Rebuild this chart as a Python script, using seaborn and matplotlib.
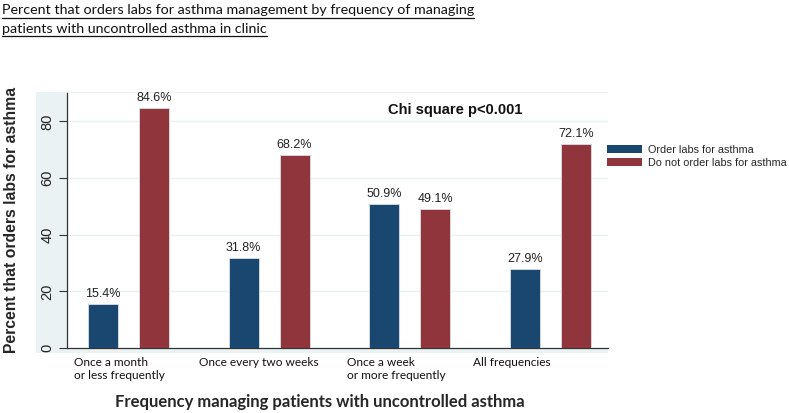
import matplotlib
matplotlib.use("Agg")
import matplotlib.pyplot as plt
import seaborn as sns
import pandas as pd
from matplotlib.patches import Patch
from matplotlib.lines import Line2D

categories = ["Once a month\nor less frequently", "Once every two weeks",
              "Once a week\nor more frequently", "All frequencies"]
series_names = ["Order labs for asthma", "Do not order labs for asthma"]
order_labs = [15.4, 31.8, 50.9, 27.9]
no_order_labs = [84.6, 68.2, 49.1, 72.1]
y_ticks = [0, 20, 40, 60, 80]
title_lines = ["Percent that orders labs for asthma management by frequency of managing",
               "patients with uncontrolled asthma in clinic"]
x_title = "Frequency managing patients with uncontrolled asthma"
y_title = "Percent that orders labs for asthma"
annotation = "Chi square p<0.001"

# layout only
label_left_offsets = [-0.387, -0.499, -0.446, -0.551]
colors = ["#1a476f", "#90353b"]
bg = "#eaf2f3"

df = pd.DataFrame({
    "category": categories * 2,
    "series": [series_names[0]] * 4 + [series_names[1]] * 4,
    "value": order_labs + no_order_labs,
})

sns.set_theme(style="white")
plt.rcParams["font.family"] = ["Liberation Sans", "DejaVu Sans"]

fig = plt.figure(figsize=(7.89, 4.13), dpi=100)
bg_ax = fig.add_axes([36 / 789, 1 - 353 / 413, 572 / 789, 261 / 413], zorder=-5)
bg_ax.set_facecolor(bg)
bg_ax.set_xticks([])
bg_ax.set_yticks([])
for s in bg_ax.spines.values():
    s.set_visible(False)

ax = fig.add_axes([67 / 789, 1 - 348 / 413, 541 / 789, 255 / 413], zorder=1)
ax.set_facecolor("white")

sns.barplot(data=df, x="category", y="value", hue="series", order=categories,
            hue_order=series_names, palette=colors, width=0.724, gap=0.41,
            ax=ax, legend=False, saturation=1, edgecolor="#d8e0e6", linewidth=0.6,
            zorder=3)

for cont in ax.containers:
    ax.bar_label(cont, fmt="%.1f%%", padding=3, fontsize=9, color="#222222")

ax.set_ylim(0, 90)
ax.set_xlim(-0.437, 3.409)
ax.set_yticks(y_ticks)
ax.set_yticklabels([str(t) for t in y_ticks], rotation=90, va="center",
                   fontsize=10.5, color="#222222")
ax.tick_params(axis="y", length=6, width=0.8, color="#333333", pad=3, left=True)
ax.tick_params(axis="x", length=0)
ax.set_xticks(range(len(categories)))
ax.set_xticklabels([])
ax.yaxis.grid(True, color=bg, linewidth=1.0)
ax.set_axisbelow(True)
for s in ["top", "right"]:
    ax.spines[s].set_visible(False)
for s in ["left", "bottom"]:
    ax.spines[s].set_color("#333333")
    ax.spines[s].set_linewidth(0.9)
ax.set_xlabel("")
ax.set_ylabel("")

for i, (lab, off) in enumerate(zip(categories, label_left_offsets)):
    ax.text(i + off, -3.0, lab, ha="left", va="top", fontsize=8.6,
            family=["Lato", "DejaVu Sans"], color="#111111", linespacing=1.3,
            transform=ax.transData, clip_on=False)

ax.text(2.32, 84.0, annotation, ha="center", va="center", fontsize=10.5,
        fontweight="bold", color="#111111")

fig.text(320 / 789, 1 - 402 / 413, x_title, ha="center", va="center",
         fontsize=12, fontweight="bold", family=["Lato", "DejaVu Sans"])
fig.text(12 / 789, 1 - 220 / 413, y_title, ha="center", va="center",
         rotation=90, fontsize=11.3, fontweight="bold")

title_objs = []
for k, line in enumerate(title_lines):
    t = fig.text(2 / 789, 1 - (14 + 19 * k) / 413, line, ha="left",
                 va="baseline", fontsize=10.3, family=["Lato", "DejaVu Sans"],
                 color="#111111")
    title_objs.append(t)

handles = [Patch(facecolor=c, edgecolor="none") for c in colors]
fig.legend(handles, series_names, loc="upper left",
           bbox_to_anchor=(605 / 789, 1 - 143 / 413), frameon=False,
           fontsize=7.8, handlelength=3.2, handleheight=0.75,
           handletextpad=0.6, labelspacing=0.25, borderaxespad=0,
           borderpad=0.2)

fig.canvas.draw()
renderer = fig.canvas.get_renderer()
inv = fig.transFigure.inverted()
for t in title_objs:
    bb = t.get_window_extent(renderer)
    x0, _ = inv.transform((bb.x0, 0))
    x1, _ = inv.transform((bb.x1, 0))
    _, yb = t.get_position()
    yl = yb - 3.5 / 413
    fig.lines.append(Line2D([x0, x1], [yl, yl], transform=fig.transFigure,
                            color="#111111", linewidth=0.9))

fig.savefig("out.png", dpi=100)
